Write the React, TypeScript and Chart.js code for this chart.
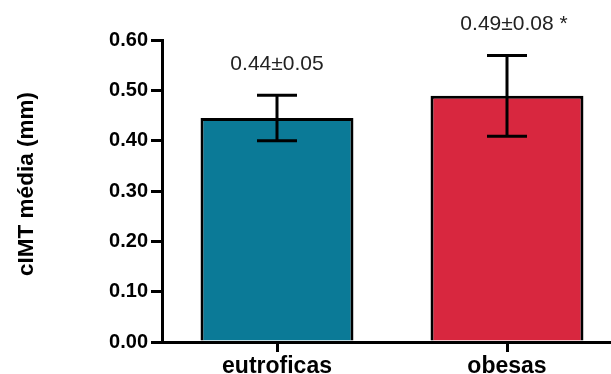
import React, { useEffect, useRef } from "react";
import { Chart, registerables } from "chart.js";

Chart.register(...registerables);

const categories = ["eutroficas", "obesas"];
const means = [0.445, 0.489];
const errors = [0.045, 0.08];
const valueLabels = ["0.44±0.05", "0.49±0.08 *"];
const barColors = ["#0b7a97", "#d8273f"];
const yTitle = "cIMT média (mm)";

const FONT = "'Liberation Sans', Arial, sans-serif";

export default function App() {
  const ref = useRef<HTMLCanvasElement | null>(null);

  useEffect(() => {
    document.body.style.overflow = "hidden";
    const canvas = ref.current!;
    const errorPlugin = {
      id: "errbars",
      afterDatasetsDraw(chart: any) {
        const ctx = chart.ctx;
        const x = chart.scales.x;
        const y = chart.scales.y;
        ctx.save();
        ctx.strokeStyle = "#000";
        ctx.lineWidth = 3;
        means.forEach((m, i) => {
          const cx = x.getPixelForValue(i);
          const top = y.getPixelForValue(m + errors[i]);
          const bot = y.getPixelForValue(m - errors[i]);
          ctx.beginPath();
          ctx.moveTo(cx, top);
          ctx.lineTo(cx, bot);
          ctx.moveTo(cx - 20, top);
          ctx.lineTo(cx + 20, top);
          ctx.moveTo(cx - 20, bot);
          ctx.lineTo(cx + 20, bot);
          ctx.stroke();
        });
        // value labels
        ctx.fillStyle = "#222";
        ctx.font = `21px ${FONT}`;
        ctx.textBaseline = "middle";
        ctx.textAlign = "left";
        means.forEach((m, i) => {
          const cx = x.getPixelForValue(i);
          const top = y.getPixelForValue(m + errors[i]);
          const base = valueLabels[i].replace(" *", "");
          const w = ctx.measureText(base).width;
          ctx.fillText(valueLabels[i], cx - w / 2, top - 31);
        });
        // y title
        ctx.fillStyle = "#000";
        ctx.font = `bold 22.5px ${FONT}`;
        ctx.textAlign = "center";
        ctx.translate(27, 184);
        ctx.rotate(-Math.PI / 2);
        ctx.fillText(yTitle, 0, 0);
        ctx.restore();
      },
    };

    const chart = new Chart(canvas, {
      type: "bar",
      data: {
        labels: categories,
        datasets: [
          {
            data: means,
            backgroundColor: barColors,
            borderColor: "#000",
            borderWidth: 3,
            borderSkipped: "bottom",
            categoryPercentage: 1,
            barPercentage: 0.665,
          },
        ],
      },
      options: {
        responsive: false,
        animation: false,
        events: [],
        layout: { padding: { left: 0, top: 40, right: 18, bottom: 0 } },
        plugins: { legend: { display: false }, tooltip: { enabled: false } },
        scales: {
          x: {
            offset: true,
            grid: {
              display: true,
              drawOnChartArea: false,
              drawTicks: true,
              tickLength: 10,
              offset: false,
              color: "#000",
              lineWidth: 3,
            },
            border: { display: true, color: "#000", width: 3 },
            ticks: {
              color: "#000",
              font: { family: FONT, size: 23, weight: "bold" },
              padding: 1,
            },
            afterFit(scale: any) {
              scale.height = 32;
            },
          },
          y: {
            min: 0,
            max: 0.6,
            grid: {
              display: true,
              drawOnChartArea: false,
              drawTicks: true,
              tickLength: 11,
              color: "#000",
              lineWidth: 3,
            },
            border: { display: true, color: "#000", width: 3 },
            ticks: {
              stepSize: 0.1,
              color: "#000",
              padding: 3,
              font: { family: FONT, size: 20, weight: "bold" },
              callback: (v: any) => Number(v).toFixed(2),
            },
            afterFit(scale: any) {
              scale.width = 162;
            },
          },
        },
      },
      plugins: [errorPlugin],
    });
    return () => chart.destroy();
  }, []);

  return (
    <div
      style={{
        position: "fixed",
        left: 0,
        top: 0,
        width: 611,
        height: 374,
        overflow: "hidden",
        background: "#fff",
      }}
    >
      <canvas ref={ref} width={640} height={374} style={{ display: "block" }} />
    </div>
  );
}
